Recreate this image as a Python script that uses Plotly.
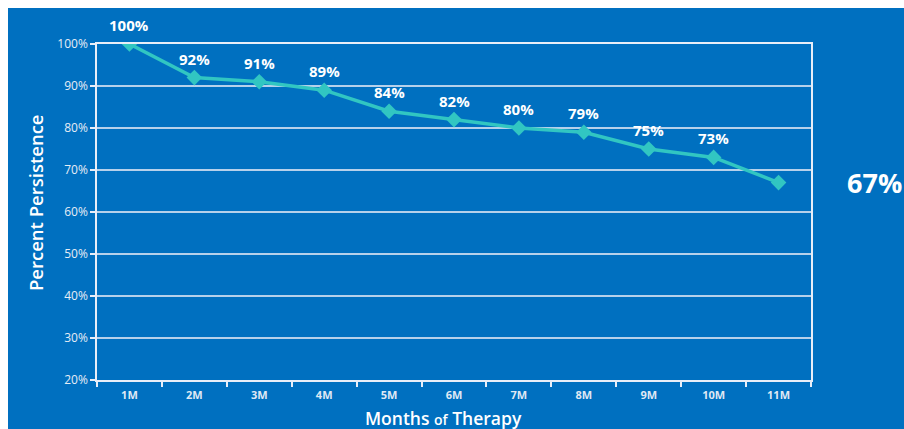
import plotly.graph_objects as go

# Persistence on therapy by month
months = ["1M", "2M", "3M", "4M", "5M", "6M", "7M", "8M", "9M", "10M", "11M"]
persistence = [100, 92, 91, 89, 84, 82, 80, 79, 75, 73, 67]
y_ticks = [20, 30, 40, 50, 60, 70, 80, 90, 100]

BLUE = "#0070C0"
TEAL = "#31C6C2"
FONT = "Open Sans"

W, H = 904, 429
ML, MR, MT, MB = 97, 93, 44, 49
PW, PH = W - ML - MR, H - MT - MB


def px_x(px):
    """Pixel column -> paper x."""
    return (px - ML) / PW


def px_y(py):
    """Pixel row (from top) -> paper y."""
    return (H - MB - py) / PH


fig = go.Figure()

fig.add_trace(go.Scatter(
    x=months,
    y=persistence,
    mode="lines+markers",
    line=dict(color=TEAL, width=3.5),
    marker=dict(symbol="diamond", size=12, color=TEAL),
    hoverinfo="skip",
    showlegend=False,
))

# value labels above every point except the last, which is called out on the right
for m, v in zip(months[:-1], persistence[:-1]):
    fig.add_annotation(
        x=m, y=v, text=f"{v}%", showarrow=False, yshift=19,
        font=dict(family=FONT, size=15, color="white", weight=700),
    )

fig.add_annotation(
    xref="paper", yref="y", x=px_x(845), y=persistence[-1],
    xanchor="left", yanchor="middle",
    text=f"{persistence[-1]}%", showarrow=False,
    font=dict(family=FONT, size=27, color="white", weight=700),
)

# axis titles
fig.add_annotation(
    xref="paper", yref="paper", x=px_x(443), y=px_y(418),
    xanchor="center", yanchor="middle", showarrow=False,
    text="Months <span style='font-size:14px'>of</span> Therapy",
    font=dict(family=FONT, size=17.5, color="white", weight=600),
)
fig.add_annotation(
    xref="paper", yref="paper", x=px_x(35), y=px_y(203),
    xanchor="center", yanchor="middle", showarrow=False, textangle=-90,
    text="Percent Persistence",
    font=dict(family=FONT, size=18.5, color="white", weight=600),
)

# white margin strips on the left and top edges
fig.add_shape(type="rect", xref="paper", yref="paper",
              x0=-0.5, x1=px_x(8), y0=-0.5, y1=1.5,
              fillcolor="white", line=dict(width=0), layer="above")
fig.add_shape(type="rect", xref="paper", yref="paper",
              x0=-0.5, x1=1.5, y0=px_y(8), y1=1.5,
              fillcolor="white", line=dict(width=0), layer="above")

fig.update_layout(
    width=W, height=H,
    margin=dict(l=ML, r=MR, t=MT, b=MB),
    paper_bgcolor=BLUE,
    plot_bgcolor=BLUE,
    font=dict(family=FONT, color="white"),
    xaxis=dict(
        type="category",
        range=[-0.5, len(months) - 0.5],
        tickson="boundaries",
        ticks="outside", ticklen=5, tickcolor="#e8eef8", tickwidth=1.5,
        showline=True, linecolor="#e8eef8", linewidth=1.5, mirror=True,
        showgrid=False,
        ticklabelstandoff=4,
        tickfont=dict(family=FONT, size=11, color="#dfe8f4", weight=700),
        fixedrange=True,
    ),
    yaxis=dict(
        range=[20, 100],
        tickvals=y_ticks,
        ticktext=[f"{t}%" for t in y_ticks],
        ticks="outside", ticklen=5, tickcolor="#e8eef8", tickwidth=1.5,
        showline=True, linecolor="#e8eef8", linewidth=1.5, mirror=True,
        showgrid=True, gridcolor="rgba(214,226,242,0.85)", gridwidth=1.5,
        zeroline=False,
        tickfont=dict(family=FONT, size=12, color="#e6edf6"),
        fixedrange=True,
    ),
)

fig.write_html("out.html")
